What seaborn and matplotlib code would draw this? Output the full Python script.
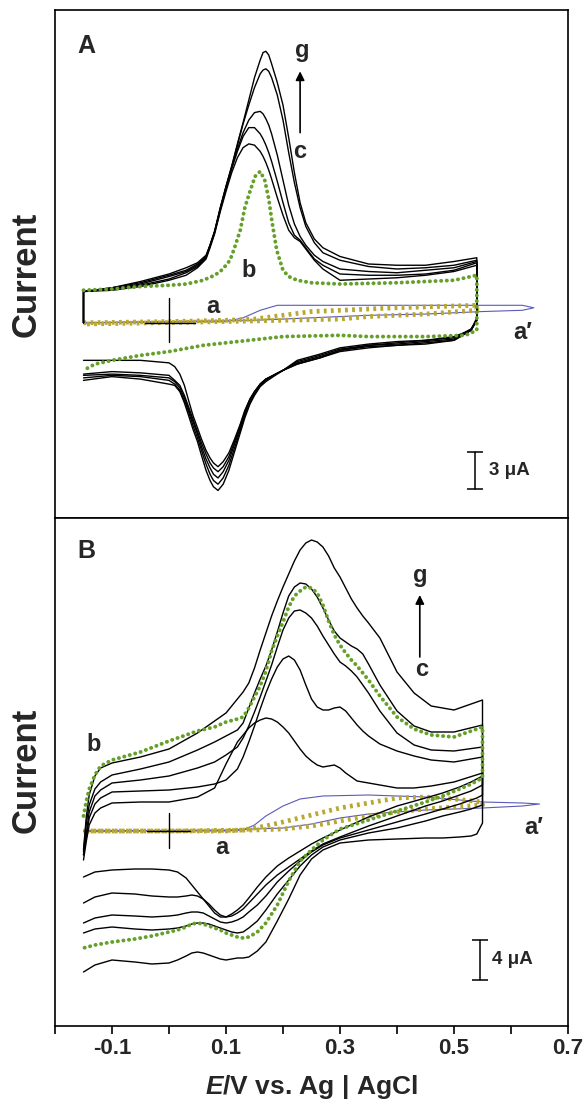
import matplotlib
matplotlib.use('Agg')
import matplotlib.pyplot as plt
import pandas as pd
import seaborn as sns

# ---------------- Panel A (potential in V, current in uA, arbitrary offset) ----------------
E_A_fwd = [-0.15, -0.15, -0.10, -0.05, 0.00, 0.03, 0.05, 0.065, 0.072, 0.08, 0.09, 0.10, 0.11,
           0.12, 0.13, 0.14, 0.15, 0.16, 0.165, 0.17, 0.175, 0.18, 0.19, 0.20, 0.21, 0.22,
           0.23, 0.24, 0.255, 0.27, 0.30, 0.35, 0.40, 0.45, 0.50, 0.54]
E_A_rev = [0.54, 0.53, 0.50, 0.45, 0.40, 0.35, 0.30, 0.265, 0.225, 0.20, 0.183, 0.17, 0.16,
           0.15, 0.142, 0.133, 0.125, 0.115, 0.105, 0.095, 0.086, 0.078, 0.072, 0.065, 0.057,
           0.05, 0.042, 0.035, 0.027, 0.019, 0.01, 0.00, -0.05, -0.10, -0.15]

A_g_fwd = [0.0, 2.5, 2.8, 3.3, 3.9, 4.4, 4.8, 5.4, 6.2, 7.3, 9.2, 10.9, 12.5, 14.3, 16.0, 17.8,
           19.6, 21.0, 21.6, 21.7, 21.4, 20.7, 19.2, 17.4, 14.8, 12.0, 9.6, 8.0, 6.7, 6.0,
           5.3, 4.7, 4.6, 4.6, 4.9, 5.2]
A_f_fwd = [0.0, 2.5, 2.8, 3.2, 3.8, 4.2, 4.7, 5.3, 6.2, 7.3, 9.2, 10.9, 12.5, 14.2, 15.9, 17.4,
           18.8, 19.9, 20.2, 20.3, 20.1, 19.6, 18.2, 16.2, 13.6, 11.2, 9.2, 7.7, 6.4, 5.6,
           5.0, 4.5, 4.3, 4.4, 4.6, 5.0]
A_e_fwd = [0.0, 2.5, 2.7, 3.1, 3.7, 4.1, 4.6, 5.3, 6.2, 7.3, 9.1, 10.8, 12.4, 13.9, 15.2, 16.2,
           16.8, 16.9, 16.7, 16.3, 15.8, 15.1, 13.4, 11.4, 9.4, 7.9, 6.9, 6.2, 5.4, 4.9,
           4.3, 4.1, 4.0, 4.2, 4.4, 4.9]
A_d_fwd = [0.0, 2.5, 2.7, 3.0, 3.5, 4.0, 4.5, 5.2, 6.1, 7.2, 9.0, 10.7, 12.3, 13.7, 14.9, 15.6,
           15.6, 15.1, 14.7, 14.2, 13.6, 12.9, 11.3, 9.6, 8.0, 7.0, 6.6, 6.0, 5.1, 4.6,
           3.9, 3.8, 3.8, 3.9, 4.2, 4.8]
A_c_fwd = [0.0, 2.5, 2.6, 2.9, 3.4, 3.8, 4.4, 5.1, 6.0, 7.1, 8.9, 10.5, 12.0, 13.2, 14.0, 14.3,
           14.2, 13.7, 13.3, 12.8, 12.2, 11.5, 10.0, 8.6, 7.4, 6.8, 6.5, 5.9, 5.0, 4.3,
           3.4, 3.5, 3.6, 3.8, 4.1, 4.6]

A_g_rev = [0.4, -0.6, -1.1, -1.4, -1.5, -1.7, -2.0, -2.5, -3.0, -3.8, -4.3, -4.7, -5.1, -5.8,
           -6.5, -7.6, -8.8, -10.3, -11.8, -12.9, -13.4, -13.1, -12.6, -11.8, -10.6, -9.5,
           -8.5, -7.5, -6.4, -5.5, -5.0, -4.9, -4.5, -4.3, -4.6]
A_f_rev = [0.3, -0.5, -1.2, -1.4, -1.6, -1.8, -2.1, -2.6, -3.1, -3.8, -4.2, -4.6, -5.0, -5.7,
           -6.4, -7.4, -8.6, -10.0, -11.4, -12.4, -12.9, -12.6, -12.1, -11.3, -10.2, -9.2,
           -8.2, -7.2, -6.2, -5.4, -4.9, -4.6, -4.3, -4.2, -4.4]
A_e_rev = [0.2, -0.5, -1.3, -1.5, -1.7, -1.8, -2.2, -2.7, -3.2, -3.8, -4.2, -4.5, -4.9, -5.6,
           -6.2, -7.2, -8.4, -9.7, -11.0, -11.9, -12.4, -12.1, -11.6, -10.9, -9.9, -8.9,
           -7.9, -7.0, -6.0, -5.2, -4.7, -4.4, -4.2, -4.1, -4.2]
A_d_rev = [0.2, -0.6, -1.4, -1.6, -1.8, -1.9, -2.2, -2.8, -3.3, -3.8, -4.2, -4.5, -4.9, -5.5,
           -6.1, -7.1, -8.2, -9.5, -10.7, -11.5, -11.9, -11.6, -11.2, -10.5, -9.6, -8.7,
           -7.7, -6.8, -5.8, -5.0, -4.6, -4.2, -4.0, -3.9, -4.1]
A_c_rev = [0.2, -0.6, -1.4, -1.7, -1.8, -2.0, -2.3, -2.8, -3.3, -3.8, -4.2, -4.5, -4.9, -5.5,
           -6.1, -7.0, -8.1, -9.3, -10.4, -11.1, -11.5, -11.2, -10.8, -10.2, -9.3, -8.4,
           -7.4, -6.3, -5.0, -4.1, -3.5, -3.2, -3.0, -3.0, -3.0]

# curve b (dotted green)
A_b_E_fwd = [-0.15, -0.10, -0.05, 0.00, 0.03, 0.06, 0.08, 0.09, 0.10, 0.107, 0.115, 0.125,
             0.133, 0.142, 0.151, 0.16, 0.168, 0.175, 0.181, 0.189, 0.20, 0.21, 0.225, 0.25,
             0.30, 0.40, 0.50, 0.54]
A_b_fwd = [2.6, 2.7, 2.9, 3.0, 3.1, 3.4, 3.8, 4.1, 4.6, 5.0, 6.0, 7.4, 9.2, 10.5, 11.7, 12.1,
           11.4, 9.9, 8.0, 5.8, 4.2, 3.7, 3.4, 3.2, 3.1, 3.2, 3.4, 3.8]
A_b_E_rev = [0.54, 0.52, 0.45, 0.35, 0.30, 0.20, 0.14, 0.06, 0.00, -0.05, -0.10, -0.13, -0.15]
A_b_rev = [-0.6, -1.0, -1.1, -1.1, -1.0, -1.1, -1.4, -1.8, -2.3, -2.6, -3.0, -3.3, -3.8]

# curve a (dotted yellow) and a' (thin blue)
A_a_E_fwd = [-0.15, 0.00, 0.10, 0.15, 0.20, 0.25, 0.30, 0.40, 0.54]
A_a_fwd = [0.0, 0.1, 0.2, 0.3, 0.6, 0.9, 1.0, 1.2, 1.4]
A_a_E_rev = [0.54, 0.45, 0.35, 0.30, 0.20, 0.10, -0.15]
A_a_rev = [1.0, 0.7, 0.5, 0.3, 0.2, 0.1, -0.1]
A_ap_E_fwd = [-0.15, 0.10, 0.13, 0.16, 0.19, 0.25, 0.35, 0.45, 0.55, 0.62, 0.64]
A_ap_fwd = [0.0, 0.1, 0.4, 1.0, 1.4, 1.4, 1.4, 1.4, 1.4, 1.4, 1.2]
A_ap_E_rev = [0.62, 0.55, 0.45, 0.35, 0.25, 0.15, 0.00, -0.15]
A_ap_rev = [1.0, 0.9, 0.7, 0.6, 0.4, 0.2, 0.1, 0.0]

# ---------------- Panel B ----------------
E_B_fwd = [-0.15, -0.145, -0.14, -0.13, -0.12, -0.10, -0.05, 0.00, 0.05, 0.08, 0.10, 0.12,
           0.13, 0.14, 0.15, 0.16, 0.17, 0.18, 0.19, 0.20, 0.21, 0.22, 0.23, 0.24, 0.25, 0.26,
           0.27, 0.28, 0.29, 0.30, 0.31, 0.32, 0.33, 0.34, 0.35, 0.37, 0.40, 0.43, 0.46,
           0.50, 0.55]
E_B_rev = [0.55, 0.54, 0.53, 0.51, 0.48, 0.45, 0.40, 0.35, 0.30, 0.27, 0.25, 0.23, 0.21, 0.19,
           0.17, 0.155, 0.14, 0.13, 0.12, 0.11, 0.10, 0.09, 0.08, 0.07, 0.06, 0.05, 0.04,
           0.03, 0.015, 0.00, -0.03, -0.06, -0.10, -0.13, -0.15]

B_g_fwd = [-1.9, 1.5, 3.6, 5.5, 6.3, 6.8, 7.4, 8.2, 9.8, 11.0, 11.8, 13.2, 13.9, 14.8, 16.3,
           18.1, 19.8, 21.5, 23.0, 24.4, 25.7, 27.0, 28.1, 28.8, 29.1, 28.9, 28.4, 27.5, 26.3,
           25.4, 24.3, 23.2, 22.3, 21.5, 20.8, 19.3, 15.9, 13.8, 12.5, 12.1, 13.1]
B_f_fwd = [-2.1, 0.8, 2.6, 4.2, 4.9, 5.6, 6.2, 6.9, 8.1, 8.9, 9.5, 10.1, 10.8, 12.3, 13.8,
           15.2, 16.5, 18.1, 19.9, 21.8, 23.5, 24.4, 24.8, 24.7, 24.2, 23.4, 22.3, 21.1, 20.0,
           19.3, 18.9, 18.5, 18.2, 17.7, 16.7, 14.6, 12.0, 10.5, 9.9, 9.9, 10.6]
B_e_fwd = [-2.4, -0.2, 1.9, 3.5, 4.1, 4.8, 5.1, 5.5, 6.3, 6.9, 7.6, 8.4, 9.3, 10.5, 11.9,
           13.4, 15.0, 16.6, 18.4, 20.1, 21.3, 22.0, 22.1, 21.8, 21.3, 20.5, 19.5, 18.6, 17.7,
           16.9, 16.5, 16.0, 15.4, 14.6, 13.8, 12.0, 9.8, 8.6, 8.1, 8.0, 8.4]
B_d_fwd = [-2.4, -0.6, 1.3, 2.7, 3.3, 3.9, 4.0, 4.1, 4.4, 4.7, 5.1, 6.2, 7.4, 8.9, 10.5,
           12.2, 13.8, 15.2, 16.4, 17.2, 17.5, 17.1, 16.1, 14.6, 13.2, 12.4, 12.1, 12.1, 12.3,
           12.4, 12.0, 11.3, 10.6, 10.0, 9.5, 8.7, 8.0, 7.5, 7.1, 6.9, 7.4]
B_c_fwd = [-2.9, -1.0, 0.6, 1.8, 2.3, 2.8, 2.9, 2.9, 3.4, 4.3, 6.7, 8.9, 9.6, 10.3, 10.8,
           11.1, 11.3, 11.2, 10.9, 10.4, 9.8, 9.0, 8.2, 7.5, 7.0, 6.6, 6.4, 6.5, 6.6,
           6.3, 5.8, 5.4, 5.0, 4.9, 4.8, 4.6, 4.3, 4.3, 4.5, 4.9, 5.8]
B_b_fwd = [1.5, 3.0, 4.2, 5.6, 6.5, 7.1, 7.9, 9.0, 10.0, 10.4, 10.9, 11.2, 11.4, 12.3, 13.4,
           14.5, 16.0, 18.0, 19.5, 20.9, 22.4, 23.5, 24.0, 24.4, 24.3, 23.8, 22.6, 21.0, 19.6,
           18.6, 17.8, 17.1, 16.5, 15.8, 15.1, 13.5, 11.4, 10.2, 9.6, 9.4, 10.4]

B_g_rev = [0.8, -0.3, -0.5, -0.6, -0.7, -0.7, -0.8, -0.9, -1.2, -1.9, -2.8, -4.4, -6.8, -9.0,
           -11.1, -12.0, -12.6, -12.7, -12.7, -12.8, -12.9, -12.8, -12.6, -12.4, -12.2, -12.1,
           -12.2, -12.5, -12.9, -13.2, -13.3, -13.1, -12.9, -13.4, -14.1]
B_f_rev = [2.6, 2.4, 2.2, 1.9, 1.5, 1.0, 0.3, -0.2, -0.9, -1.6, -2.4, -3.5, -4.9, -6.3,
           -7.9, -9.0, -9.7, -10.1, -10.2, -10.1, -9.9, -9.7, -9.5, -9.3, -9.2, -9.2,
           -9.3, -9.5, -9.7, -9.8, -9.9, -9.8, -9.6, -9.8, -10.2]
B_e_rev = [3.6, 3.3, 3.1, 2.7, 2.2, 1.7, 0.9, 0.1, -0.7, -1.4, -2.1, -3.0, -4.0, -5.1,
           -6.5, -7.4, -8.1, -8.6, -8.9, -9.1, -9.2, -9.1, -8.8, -8.5, -8.2, -8.1,
           -8.1, -8.2, -8.4, -8.5, -8.6, -8.5, -8.4, -8.7, -9.2]
B_d_rev = [4.6, 4.3, 4.0, 3.6, 3.0, 2.5, 1.5, 0.5, -0.6, -1.3, -2.0, -2.8, -3.6, -4.4,
           -5.4, -6.3, -7.2, -7.8, -8.2, -8.5, -8.6, -8.4, -7.9, -7.3, -6.8, -6.5,
           -6.4, -6.5, -6.6, -6.6, -6.5, -6.3, -6.2, -6.6, -7.2]
B_c_rev = [5.5, 5.2, 4.9, 4.4, 3.8, 3.3, 2.5, 1.4, 0.1, -0.7, -1.3, -2.0, -2.7, -3.5,
           -4.6, -5.6, -6.7, -7.4, -7.9, -8.3, -8.6, -8.6, -8.2, -7.5, -6.8, -6.1,
           -5.4, -4.7, -4.1, -3.9, -3.8, -3.8, -3.9, -4.1, -4.6]
B_b_rev = [5.3, 5.0, 4.7, 4.2, 3.5, 2.9, 2.0, 1.1, 0.2, -0.9, -1.9, -3.0, -5.0, -7.4,
           -9.2, -10.1, -10.6, -10.7, -10.6, -10.4, -10.2, -9.9, -9.7, -9.5, -9.3, -9.2,
           -9.3, -9.6, -9.9, -10.1, -10.5, -10.8, -11.1, -11.4, -11.7]

B_a_E_fwd = [-0.15, 0.00, 0.10, 0.13, 0.17, 0.20, 0.25, 0.30, 0.35, 0.40, 0.45, 0.50, 0.55]
B_a_fwd = [0.0, 0.0, 0.0, 0.1, 0.5, 0.9, 1.6, 2.3, 2.8, 3.3, 3.4, 3.2, 2.9]
B_a_E_rev = [0.55, 0.50, 0.45, 0.40, 0.35, 0.30, 0.25, 0.20, 0.15, 0.00, -0.15]
B_a_rev = [2.6, 2.4, 2.2, 1.9, 1.5, 1.0, 0.5, 0.2, 0.1, 0.0, 0.0]
B_ap_E_fwd = [-0.15, 0.10, 0.13, 0.15, 0.17, 0.20, 0.23, 0.27, 0.35, 0.45, 0.55, 0.62, 0.65]
B_ap_fwd = [0.0, 0.0, 0.1, 0.6, 1.5, 2.5, 3.2, 3.5, 3.6, 3.4, 2.9, 2.8, 2.7]
B_ap_E_rev = [0.62, 0.55, 0.45, 0.35, 0.30, 0.25, 0.20, 0.10, -0.15]
B_ap_rev = [2.5, 2.3, 2.1, 1.7, 1.3, 0.7, 0.3, 0.1, 0.0]

x_ticks = [-0.2, -0.1, 0.0, 0.1, 0.2, 0.3, 0.4, 0.5, 0.6, 0.7]
x_ticklabels = ['', '-0.1', '', '0.1', '', '0.3', '', '0.5', '', '0.7']

BLACK = dict(color='black', lw=1.0)
GREEN = dict(color='#65a02a', lw=2.8, linestyle=(0, (0.05, 1.4)), dash_capstyle='round')
YELLOW = dict(color='#b8a832', lw=3.4, linestyle=(0, (0.6, 0.9)), dash_capstyle='butt')
BLUE = dict(color='#5a5ab8', lw=0.8)


def draw_cv(ax, e_fwd, i_fwd, e_rev, i_rev, style):
    df = pd.DataFrame({'E': list(e_fwd) + list(e_rev), 'I': list(i_fwd) + list(i_rev)})
    sns.lineplot(data=df, x='E', y='I', sort=False, estimator=None, ax=ax, **style)


sns.set_theme(style='white')
plt.rcParams['font.family'] = ['Liberation Sans', 'DejaVu Sans']
plt.rcParams['font.weight'] = 'bold'
plt.rcParams['mathtext.fontset'] = 'custom'
plt.rcParams['mathtext.it'] = 'Liberation Sans:italic:bold'
plt.rcParams['mathtext.rm'] = 'Liberation Sans:bold'

fig = plt.figure(figsize=(5.85, 11.06), dpi=100)
axA = fig.add_axes([55 / 585, 1 - 518 / 1106, 513 / 585, 508 / 1106])
axB = fig.add_axes([55 / 585, 1 - 1026 / 1106, 513 / 585, 508 / 1106])

# --- panel A curves
draw_cv(axA, A_ap_E_fwd, A_ap_fwd, A_ap_E_rev, A_ap_rev, BLUE)
draw_cv(axA, A_a_E_fwd, A_a_fwd, A_a_E_rev, A_a_rev, YELLOW)
for fwd, rev in [(A_c_fwd, A_c_rev), (A_d_fwd, A_d_rev), (A_e_fwd, A_e_rev),
                 (A_f_fwd, A_f_rev), (A_g_fwd, A_g_rev)]:
    draw_cv(axA, E_A_fwd, fwd, E_A_rev, rev, BLACK)
draw_cv(axA, A_b_E_fwd, A_b_fwd, A_b_E_rev, A_b_rev, GREEN)

# --- panel B curves
draw_cv(axB, B_ap_E_fwd, B_ap_fwd, B_ap_E_rev, B_ap_rev, BLUE)
draw_cv(axB, B_a_E_fwd, B_a_fwd, B_a_E_rev, B_a_rev, YELLOW)
for fwd, rev in [(B_c_fwd, B_c_rev), (B_d_fwd, B_d_rev), (B_e_fwd, B_e_rev),
                 (B_f_fwd, B_f_rev), (B_g_fwd, B_g_rev)]:
    draw_cv(axB, E_B_fwd, fwd, E_B_rev, rev, BLACK)
draw_cv(axB, E_B_fwd, B_b_fwd, E_B_rev, B_b_rev, GREEN)

axA.set_ylim(-15.6, 25.0)
axB.set_ylim(-19.5, 31.3)

ann = dict(fontsize=17, fontweight='bold', ha='center', va='center')
arrow = dict(arrowstyle='-|>', color='black', lw=1.2, mutation_scale=13, shrinkA=0, shrinkB=0)

for ax, lab, ly in [(axA, 'A', 0.93), (axB, 'B', 0.935)]:
    ax.set_xlim(-0.2, 0.7)
    ax.text(0.062, ly, lab, transform=ax.transAxes, fontsize=18, fontweight='bold',
            ha='center', va='center')
    ax.set_ylabel('Current', fontsize=25, fontweight='bold')
    ax.yaxis.label.set_va('center')
    ax.set_yticks([])
    for s in ax.spines.values():
        s.set_color('black')
        s.set_linewidth(1.2)

axA.yaxis.set_label_coords(-0.057, 0.48)
axB.yaxis.set_label_coords(-0.057, 0.504)

# zero-current crosses
axA.plot([0, 0], [2.0, -1.5], color='black', lw=1.0)
axA.plot([-0.042, 0.046], [0, 0], color='black', lw=1.0)
axB.plot([0, 0], [1.8, -1.7], color='black', lw=1.0)
axB.plot([-0.039, 0.037], [0, 0], color='black', lw=1.0)

# panel A labels
axA.text(0.233, 21.8, 'g', **ann)
axA.text(0.23, 13.7, 'c', **ann)
axA.annotate('', xy=(0.23, 20.1), xytext=(0.23, 15.2), arrowprops=arrow)
axA.text(0.139, 4.2, 'b', **ann)
axA.text(0.077, 1.3, 'a', **ann)
axA.text(0.621, -0.8, 'a\u2032', **ann)
axA.plot([0.537, 0.537], [-10.3, -13.3], color='black', lw=1.1, marker='_', ms=11, mew=1.1)
axA.text(0.562, -11.8, '3 \u03bcA', fontsize=13.5, fontweight='bold', ha='left', va='center')

# panel B labels
axB.text(0.44, 25.6, 'g', **ann)
axB.text(0.444, 16.2, 'c', **ann)
axB.annotate('', xy=(0.44, 23.6), xytext=(0.44, 17.4), arrowprops=arrow)
axB.text(-0.133, 8.7, 'b', **ann)
axB.text(0.093, -1.7, 'a', **ann)
axB.text(0.64, 0.4, 'a\u2032', **ann)
axB.plot([0.546, 0.546], [-10.9, -14.9], color='black', lw=1.1, marker='_', ms=11, mew=1.1)
axB.text(0.567, -12.9, '4 \u03bcA', fontsize=13.5, fontweight='bold', ha='left', va='center')

axA.set_xticks([])
axA.set_xlabel('')
axB.set_xticks(x_ticks)
axB.set_xticklabels(x_ticklabels, fontsize=16, fontweight='bold')
axB.tick_params(axis='x', direction='out', length=6, width=1.2, pad=3, bottom=True, color='black')
axB.set_xlabel(r'$\mathit{E}$/V vs. Ag | AgCl', fontsize=19, fontweight='bold', labelpad=10)

fig.savefig('out.png', dpi=100)
